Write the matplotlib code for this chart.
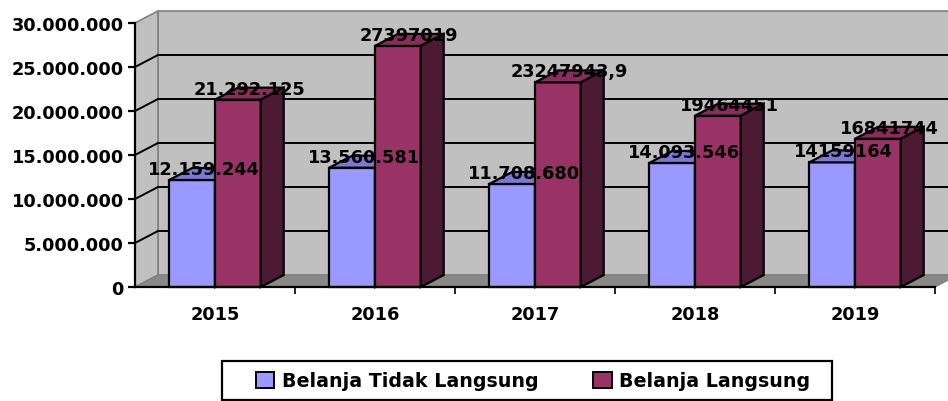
import numpy as np
import matplotlib.pyplot as plt
from matplotlib.patches import Polygon, Rectangle, Patch
from matplotlib.ticker import FuncFormatter

years = ["2015", "2016", "2017", "2018", "2019"]
tidak_langsung = [12159244, 13560581, 11708680, 14093546, 14159164]
langsung = [21292125, 27397019, 23247943.9, 19464451, 16841744]
tidak_langsung_labels = ["12.159.244", "13.560.581", "11.708.680", "14.093.546", "14159164"]
langsung_labels = ["21.292.125", "27397019", "23247943,9", "19464451", "16841744"]

W, H = 948, 402
YMAX = 30e6
FONT = dict(family="DejaVu Sans", weight="bold", size=12.8)
LEGEND_FONT = dict(family="DejaVu Sans", weight="bold", size=13.7)

fig = plt.figure(figsize=(W / 100, H / 100), dpi=100)
fig.patch.set_facecolor("white")
# front plane of the 3-D box, in pixels: x 135..935, y 24..288
ax = fig.add_axes([135 / W, (H - 288) / H, 800 / W, 264 / H])
ax.set_xlim(0, len(years))
ax.set_ylim(0, YMAX)
ax.set_facecolor("none")

# depth of the box expressed in data units (23 px right, 12 px up)
DX = 23 / 800 * len(years)
DY = 12 / 264 * YMAX
n = len(years)


def poly(pts, fc, ec="black", lw=1.2, z=1):
    ax.add_patch(Polygon(pts, closed=True, facecolor=fc, edgecolor=ec,
                         linewidth=lw, zorder=z, clip_on=False, joinstyle="miter"))


# walls and floor
poly([(DX, DY), (n + DX, DY), (n + DX, YMAX + DY), (DX, YMAX + DY)], "#C0C0C0", ec="#808080", z=0.5)
poly([(0, 0), (DX, DY), (DX, YMAX + DY), (0, YMAX)], "#C0C0C0", ec="#808080", z=0.5)
poly([(0, 0), (n, 0), (n + DX, DY), (DX, DY)], "#898989", ec="#808080", lw=0.8, z=0.6)

for v in np.arange(5e6, YMAX, 5e6):
    ax.plot([DX, n + DX], [v + DY, v + DY], color="black", lw=1.4, zorder=0.7, clip_on=False)
    ax.plot([0, DX], [v, v + DY], color="black", lw=1.4, zorder=0.7, clip_on=False)


def bar3d(x0, w, h, front, top, side):
    poly([(x0, 0), (x0 + w, 0), (x0 + w, h), (x0, h)], front, lw=1.6, z=2)
    poly([(x0, h), (x0 + w, h), (x0 + w + DX, h + DY), (x0 + DX, h + DY)], top, lw=1.6, z=2)
    poly([(x0 + w, 0), (x0 + w + DX, DY), (x0 + w + DX, h + DY), (x0 + w, h)], side, lw=1.6, z=2)


bw = 1 / 3.5
gap = 0.75 / 3.5
for i in range(n):
    bar3d(i + gap, bw, tidak_langsung[i], "#9999FF", "#7A7AD6", "#5C5CB0")
    bar3d(i + gap + bw, bw, langsung[i], "#993366", "#8A2D5C", "#4D1A33")

for i in range(n):
    for k, (vals, labs) in enumerate([(tidak_langsung, tidak_langsung_labels),
                                       (langsung, langsung_labels)]):
        xm = i + gap + bw * (k + 0.5) + DX / 2
        ax.annotate(labs[i], (xm, vals[i] + DY / 2), xytext=(0, 5),
                    textcoords="offset pixels", ha="center", va="center",
                    zorder=5, annotation_clip=False, **FONT)

# axes, ticks and labels
for s in ["top", "right"]:
    ax.spines[s].set_visible(False)
for s in ["left", "bottom"]:
    ax.spines[s].set_linewidth(1.6)
    ax.spines[s].set_zorder(3)
ax.set_yticks(np.arange(0, YMAX + 1, 5e6))
ax.yaxis.set_major_formatter(FuncFormatter(lambda v, p: f"{int(v):,}".replace(",", ".")))
ax.tick_params(axis="y", length=5, width=1.6, pad=3)
ax.set_xticks(np.arange(1, n + 1))
ax.set_xticklabels([])
ax.tick_params(axis="x", which="major", length=5, width=1.2)
ax.set_xticks(np.arange(n) + 0.5, minor=True)
ax.set_xticklabels(years, minor=True)
ax.tick_params(axis="x", which="minor", length=0, pad=13)
for t in ax.get_yticklabels() + ax.get_xticklabels(minor=True):
    t.set_fontfamily(FONT["family"])
    t.set_fontweight("bold")
    t.set_fontsize(FONT["size"])

# legend
fig.patches.append(Rectangle((222 / W, 1 / H), 610 / W, 39 / H, transform=fig.transFigure,
                             facecolor="white", edgecolor="black", linewidth=1.6))
handles = [Patch(facecolor="#9999FF", edgecolor="black", linewidth=1.4, label="Belanja Tidak Langsung"),
           Patch(facecolor="#993366", edgecolor="black", linewidth=1.4, label="Belanja Langsung")]
fig.legend(handles=handles, loc="center left", bbox_to_anchor=(256 / W, 1 - 382 / H),
           ncol=2, frameon=False, handlelength=0.95, handleheight=0.95, handletextpad=0.4,
           columnspacing=2.9, borderaxespad=0, borderpad=0, prop=LEGEND_FONT)

fig.savefig("out.png", dpi=100)
